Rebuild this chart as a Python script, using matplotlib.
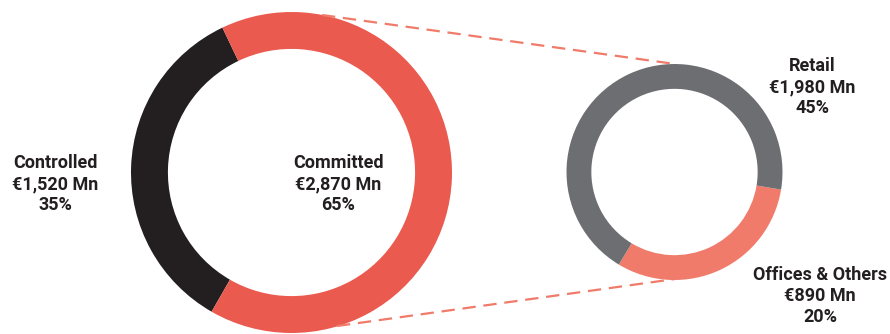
import matplotlib
matplotlib.use("Agg")
from matplotlib import pyplot as plt

# data
main_labels = ["Controlled", "Committed"]
main_values = [1520, 2870]
main_pcts = [35, 65]
sub_labels = ["Offices & Others", "Retail"]
sub_values = [890, 1980]
sub_pcts = [20, 45]

main_colors = ["#231F20", "#EB5A4E"]
sub_colors = ["#F07B6A", "#6D6E71"]

W, H = 890, 334
plt.rcParams['font.family'] = ['Roboto', 'DejaVu Sans']

fig = plt.figure(figsize=(W/100, H/100), dpi=100)
ax = fig.add_axes([0, 0, 1, 1])

# big donut
bc = (291.5, H-172.5)
br = 160.5
ax.pie(main_values, colors=main_colors, startangle=115.5, counterclock=True,
       center=bc, radius=br, wedgeprops=dict(width=br*0.23, linewidth=0))

# small donut
sc = (674.5, H-172)
sr = 108
ax.pie(sub_values, colors=sub_colors, startangle=-121, counterclock=True,
       center=sc, radius=sr, wedgeprops=dict(width=sr*0.23, linewidth=0))

# dashed connectors
ax.plot([322, 675], [H-15, H-64], color="#F07B6A", lw=1.6, dashes=(6, 3.5))
ax.plot([337, 675], [H-326, H-279], color="#F07B6A", lw=1.6, dashes=(6, 3.5))

def lab(x, y, name, val, pct):
    txt = f"{name}\n€{val:,} Mn\n{pct}%"
    ax.text(x, H-y, txt, ha="center", va="center", fontsize=13,
            fontweight="bold", color="#231F20", linespacing=1.2)

lab(55, 184, main_labels[0], main_values[0], main_pcts[0])
lab(338, 184, main_labels[1], main_values[1], main_pcts[1])
lab(812, 87, sub_labels[1], sub_values[1], sub_pcts[1])
lab(820, 296, sub_labels[0], sub_values[0], sub_pcts[0])

ax.set_xlim(0, W)
ax.set_ylim(0, H)
ax.set_aspect("auto")
ax.axis("off")
fig.savefig("out.png", dpi=100)
